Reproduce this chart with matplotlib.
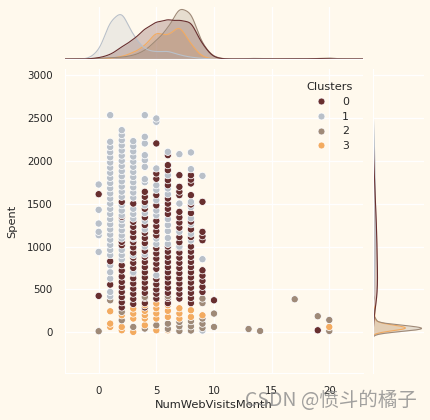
import numpy as np
import matplotlib
matplotlib.use("Agg")
import matplotlib.pyplot as plt
from matplotlib.lines import Line2D

BG = "#FFF9ED"
TXT = "#262626"
palette = ["#682F2F", "#B9C0C9", "#9F8A78", "#F3AB60"]
cluster_labels = ["0", "1", "2", "3"]

# ---- scatter data: {NumWebVisitsMonth: [Spent, ...]} per cluster ----
spent_c0 = {
    0: [1610, 424],
    1: [828, 556],
    2: [1521, 1346, 1054, 1015, 782, 720, 650, 587, 529, 470, 410, 350, 290],
    3: [1501, 1288, 1230, 1170, 1110, 1050, 990, 930, 870, 810, 750, 690, 630, 570, 510, 450, 390, 330],
    4: [1638, 1580, 1520, 1440, 1340, 1250, 1160, 1100, 1040, 950, 880, 820, 760, 700, 640, 580, 520, 460, 400, 340, 290],
    5: [2202, 1852, 1790, 1600, 1480, 1300, 1240, 1180, 1130, 980, 920, 860, 800, 740, 620, 560, 500, 450, 393],
    6: [2065, 1949, 1890, 1774, 1715, 1560, 1500, 1440, 1380, 1000, 940, 880, 820, 760, 700, 640, 580, 520, 460, 400, 340],
    7: [1832, 1696, 1640, 1599, 1404, 1340, 1280, 1220, 1110, 1050, 990, 930, 870, 810, 750, 690, 630, 570, 510, 450, 393],
    8: [1832, 1780, 1735, 1599, 1490, 1390, 1290, 1200, 1110, 1000, 940, 880, 820, 760, 700, 640, 580, 520, 460, 400, 340],
    9: [1521, 1171, 1120, 1073, 723, 660, 600, 530, 470],
    10: [373],
    19: [23],
}
spent_c1 = {
    0: [1723, 1428, 1268, 1171, 1132, 937],
    1: [2532, 2221, 2160, 2100, 2040, 1980, 1920, 1860, 1800, 1740, 1680, 1620, 1560, 1500, 1440,
        1380, 1320, 1260, 1200, 1140, 1080, 1020, 960, 900, 782, 700, 626, 470, 420],
    2: [2357, 2300, 2240, 2180, 2120, 2060, 2000, 1940, 1880, 1820, 1760, 1700, 1640, 1580, 1482,
        1420, 1365, 1307, 1250, 1190, 1130, 1093, 960, 900, 850],
    3: [2229, 2170, 2110, 2050, 1990, 1930, 1870, 1810, 1750, 1690, 1630, 1570, 1440, 1380, 1326, 1093, 900, 700],
    4: [2532, 2279, 2202, 2065, 2007, 1929, 1785, 1750, 1480, 1390, 1300, 1200, 1000, 910],
    5: [2493, 2454, 1910, 1715, 1660, 1540, 1420, 1365, 1093, 1030, 665],
    6: [2104, 1832, 1677, 1610, 1320, 1250, 1180, 1100, 1030],
    7: [2077, 1501, 1171, 1000],
    8: [2097, 1902, 1520, 1460, 1330, 1260, 1150, 1070],
    9: [1824, 852, 20],
}
spent_c2 = {
    0: [12], 1: [373], 2: [237, 140], 3: [62], 4: [412, 43], 5: [82],
    6: [420, 101, 40], 7: [120, 70, 15], 8: [130, 70, 20], 9: [393, 340, 160, 100, 50],
    10: [218, 62], 13: [38], 14: [15], 17: [385], 19: [187], 20: [143, 15],
}
spent_c3 = {
    1: [245, 101, 62], 2: [198, 62, 23], 3: [276, 218, 160, 4], 4: [315, 250, 200, 160, 82],
    5: [335, 280, 220, 160, 23], 6: [315, 250, 179, 23], 7: [280, 220, 160], 8: [257, 179],
    9: [198], 20: [62],
}

# ---- marginal data (estimated counts) ----
web_visits = [0, 1, 2, 3, 4, 5, 6, 7, 8, 9, 10, 11, 12, 13, 14, 15, 16, 17, 18, 19, 20]
web_counts_c0 = [2, 7, 21, 33, 52, 64, 68, 66, 66, 24, 2, 0, 0, 0, 0, 0, 0, 0, 0, 1, 0]
web_counts_c1 = [12, 66, 84, 40, 16, 12, 14, 7, 3, 1, 0, 0, 0, 0, 0, 0, 0, 0, 0, 0, 0]
web_counts_c2 = [1, 2, 3, 6, 14, 32, 52, 90, 82, 24, 3, 0, 0, 1, 1, 0, 0, 1, 0, 1, 2]
web_counts_c3 = [0, 1, 4, 11, 22, 48, 38, 60, 25, 3, 0, 0, 0, 0, 0, 0, 0, 0, 0, 0, 1]

spent_lv_c0 = [200, 400, 600, 800, 1000, 1200, 1400, 1600, 1800, 2000, 2200]
spent_ct_c0 = [15, 55, 65, 60, 55, 50, 40, 30, 20, 10, 5]
spent_lv_c1 = [400, 600, 800, 1000, 1200, 1400, 1600, 1800, 2000, 2200, 2400]
spent_ct_c1 = [8, 15, 25, 30, 32, 32, 30, 28, 25, 20, 10]
spent_lv_c2 = [10, 30, 50, 70, 90, 150, 250, 400]
spent_ct_c2 = [40, 80, 90, 60, 25, 12, 6, 4]
spent_lv_c3 = [20, 40, 60, 80, 110, 160, 220, 280]
spent_ct_c3 = [30, 60, 60, 30, 12, 8, 7, 6]

scatter_sets = [spent_c0, spent_c1, spent_c2, spent_c3]
web_counts = [web_counts_c0, web_counts_c1, web_counts_c2, web_counts_c3]
spent_lv = [spent_lv_c0, spent_lv_c1, spent_lv_c2, spent_lv_c3]
spent_ct = [spent_ct_c0, spent_ct_c1, spent_ct_c2, spent_ct_c3]
bw_x = [0.55, 0.55, 0.55, 0.55]
bw_y = [130, 150, 25, 25]


def kde(grid, vals, w, bw):
    vals = np.asarray(vals, float)[:, None]
    w = np.asarray(w, float)[:, None]
    k = np.exp(-0.5 * ((grid[None, :] - vals) / bw) ** 2) / (bw * np.sqrt(2 * np.pi))
    return (w * k).sum(axis=0)


W, H = 431, 420
fig = plt.figure(figsize=(W / 100, H / 100), dpi=100, facecolor=BG)


def px_axes(l, t, r, b):
    return fig.add_axes([l / W, 1 - b / H, (r - l) / W, (b - t) / H])


ax = px_axes(65, 69, 362.5, 373)
ax_t = px_axes(65, 7, 362.5, 59)
ax_r = px_axes(373, 69, 424, 373)

for a in (ax, ax_t, ax_r):
    a.set_facecolor(BG)
    a.grid(True, color="white", lw=0.9)
    a.set_axisbelow(True)
    for s in a.spines.values():
        s.set_visible(False)
    a.tick_params(length=0, colors=TXT, labelsize=7.4)

XL = (-2.92, 22.88)
YL = (-475, 3070)

# ---- joint scatter ----
xs, ys, cs = [], [], []
for ci, d in enumerate(scatter_sets):
    for xv, lst in d.items():
        for v in lst:
            xs.append(xv)
            ys.append(v)
            cs.append(palette[ci])
xs = np.array(xs); ys = np.array(ys); cs = np.array(cs)
order = np.argsort(ys, kind="stable")
ax.scatter(xs[order], ys[order], s=27, c=cs[order], edgecolors="white", linewidths=0.55, zorder=3)
ax.set_xlim(*XL)
ax.set_ylim(*YL)
ax.set_xticks([0, 5, 10, 15, 20])
ax.set_yticks([0, 500, 1000, 1500, 2000, 2500, 3000])
ax.tick_params(axis="x", pad=9)
ax.tick_params(axis="y", pad=9)
ax.spines["left"].set_visible(True)
ax.spines["bottom"].set_visible(True)
ax.spines["left"].set_color("white")
ax.spines["bottom"].set_color("white")
ax.set_xlabel("NumWebVisitsMonth", fontsize=8.2, color=TXT, labelpad=3.5)
ax.set_ylabel("Spent", fontsize=8.2, color=TXT, labelpad=6.5)

handles = [Line2D([], [], ls="", marker="o", markersize=5, markerfacecolor=palette[i],
                  markeredgecolor="white", markeredgewidth=0.5) for i in range(4)]
leg = ax.legend(handles, cluster_labels, title="Clusters", loc="upper right", frameon=False,
                fontsize=7.8, title_fontsize=8.2, labelcolor=TXT, handletextpad=0.9,
                labelspacing=0.45, bbox_to_anchor=(1.0, 0.99))
leg.get_title().set_color(TXT)

# ---- marginal KDEs (common normalisation) ----
gx = np.linspace(XL[0], XL[1], 600)
gy = np.linspace(YL[0], YL[1], 1200)
tot_x = sum(sum(c) for c in web_counts)
tot_y = sum(sum(c) for c in spent_ct)
dens_x = [kde(gx, web_visits, web_counts[i], bw_x[i]) / tot_x for i in range(4)]
dens_y = [kde(gy, spent_lv[i], spent_ct[i], bw_y[i]) / tot_y for i in range(4)]
for i in [3, 2, 1, 0]:
    ax_t.fill_between(gx, dens_x[i], color=palette[i], alpha=0.25, lw=0)
    ax_t.plot(gx, dens_x[i], color=palette[i], lw=0.8)
    ax_r.fill_betweenx(gy, dens_y[i], color=palette[i], alpha=0.25, lw=0)
    ax_r.plot(dens_y[i], gy, color=palette[i], lw=0.8)

ax_t.set_xlim(*XL)
ax_t.set_ylim(0, max(d.max() for d in dens_x) * 1.05)
ax_t.set_xticks([0, 5, 10, 15, 20])
ax_t.set_yticks([])
ax_t.tick_params(labelbottom=False, labelleft=False)
ax_t.spines["bottom"].set_visible(True)
ax_t.spines["bottom"].set_color("white")

ax_r.set_ylim(*YL)
ax_r.set_xlim(0, max(d.max() for d in dens_y) * 1.05)
ax_r.set_yticks([0, 500, 1000, 1500, 2000, 2500, 3000])
ax_r.set_xticks([])
ax_r.tick_params(labelbottom=False, labelleft=False)
ax_r.spines["left"].set_visible(True)
ax_r.spines["left"].set_color("white")

# watermark
fig.text(245 / W, 1 - 401 / H, "CSDN @愤斗的橘子", fontsize=14, color="#8a8a8a", alpha=0.8,
         ha="left", va="center", family=["Noto Sans CJK SC", "DejaVu Sans"])

fig.savefig("out.png", dpi=100, facecolor=BG)
